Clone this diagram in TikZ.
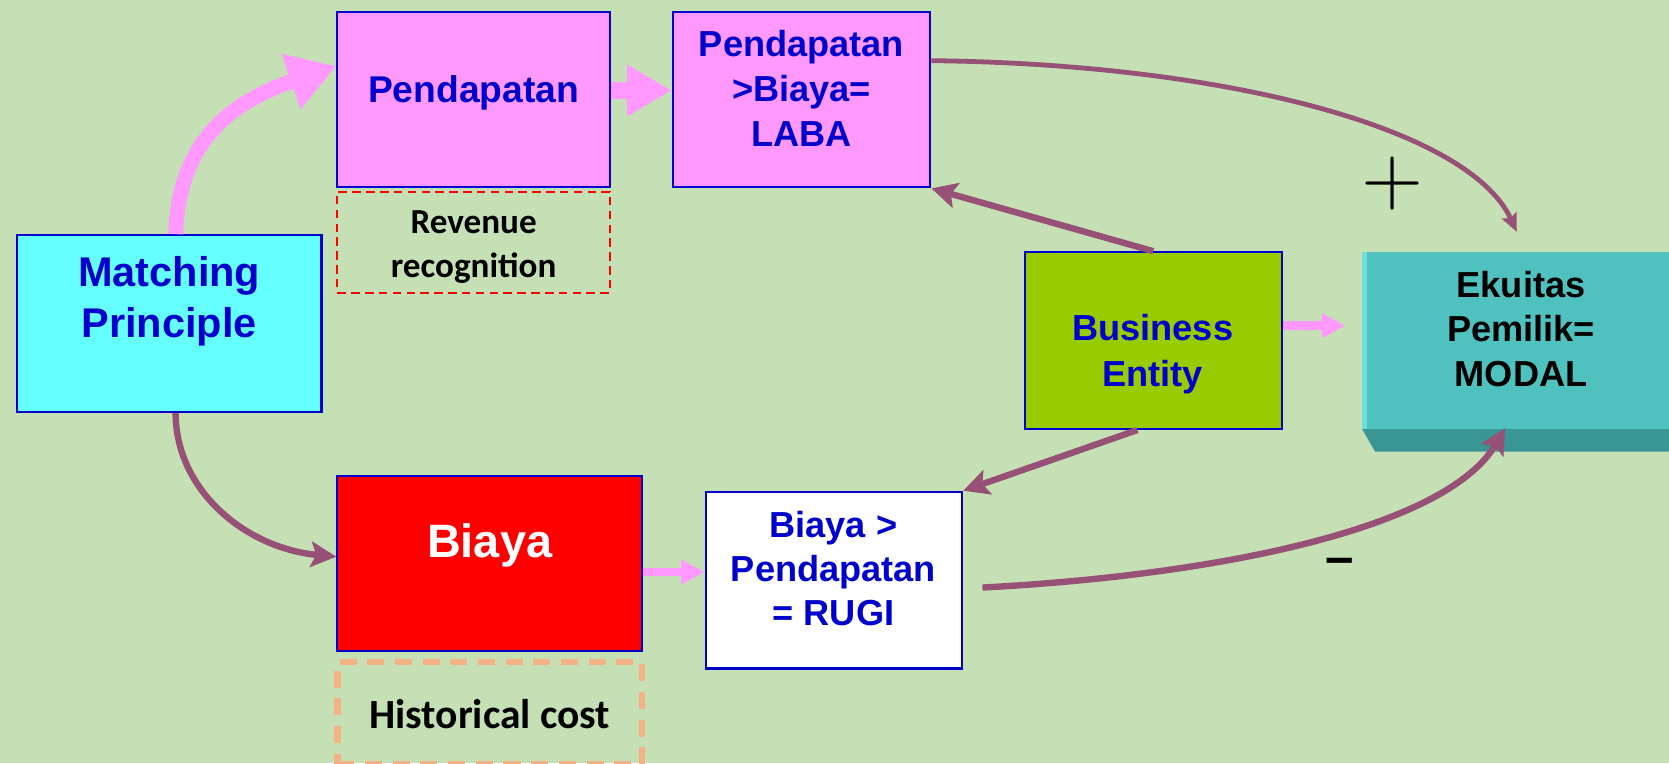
\documentclass[tikz,border=0pt]{standalone}
\usepackage{graphicx}
\usepackage{fontspec}
\setmainfont{Liberation Sans}
\newfontfamily\calibfont{Carlito}
\usetikzlibrary{arrows.meta}
\definecolor{bgc}{RGB}{197,224,180}
\definecolor{boxblue}{RGB}{0,0,204}
\definecolor{cyanbox}{RGB}{102,255,255}
\definecolor{pinkbox}{RGB}{255,153,255}
\definecolor{greenbox}{RGB}{153,204,0}
\definecolor{tealtop}{RGB}{79,193,191}
\definecolor{tealside}{RGB}{58,150,148}
\definecolor{teallight}{RGB}{110,222,218}
\definecolor{purp}{RGB}{151,81,119}
\definecolor{peach}{RGB}{244,177,131}

\begin{document}
\begin{tikzpicture}
[x=1pt,y=-1pt
,bx/.style={rectangle,draw=boxblue,line width=2pt,inner sep=0pt}
,big/.style={minimum width=#1,minimum height=166pt}
,txt/.style={align=center,inner sep=0pt,text=boxblue,font=\bfseries\fontsize{34}{42}\selectfont}
,note/.style={rectangle,inner sep=0pt,minimum width=256pt,minimum height=95pt}
,pa/.style={draw=pinkbox,line width=8pt,-{Triangle[length=22pt,width=22pt]}}
,ba/.style={draw=purp,line width=6pt,-{Stealth[length=24pt,width=24pt,inset=5pt]}}
]
\fill[bgc] (0,0) rectangle (1568,717);
\useasboundingbox (0,0) rectangle (1568,717);

% boxes
\node[bx,big=286pt,fill=cyanbox] (match) at (159,304) {};
\node[bx,big=256pt,minimum height=165pt,fill=pinkbox] (pend) at (445,93.5) {};
\node[bx,big=242pt,minimum height=165pt,fill=pinkbox] (laba) at (753,93.5) {};
\node[bx,big=241pt,fill=greenbox] (biz) at (1083.5,320) {};
\node[bx,big=286pt,minimum height=165pt,fill=red] (biaya) at (460,529.5) {};
\node[bx,big=241pt,fill=white] (rugi) at (783.5,545) {};
\node[big=288pt,fill=tealtop,inner sep=0pt] (modal) at (1424,320) {};
\fill[tealside] (modal.south west) -- ++(12,21) -- ++(400,0) -- (modal.south east) -- cycle;
\fill[teallight] (modal.north west) rectangle ([xshift=4pt]modal.south west);

\node[note,draw=red,line width=2pt,dash pattern=on 8pt off 5pt] (rev) at (445,227.5) {};
\node[note,draw=peach,line width=6pt,dash pattern=on 16pt off 10pt,minimum width=286pt,minimum height=96pt] (hist) at (460,670) {};

% texts
\node[txt,font=\bfseries\fontsize{39}{48}\selectfont] (match-t) at (159,283) {Matching\\Principle};
\node[txt,font=\bfseries\fontsize{35}{42}\selectfont] (pend-t) at (445,87) {Pendapatan};
\node[txt] (laba-t) at (753,83) {Pendapatan\\>Biaya=\\LABA};
\node[txt,font=\bfseries\fontsize{34}{43}\selectfont] (biz-t) at (1083,333) {Business\\Entity};
\node[txt,text=black,font=\bfseries\fontsize{34}{41.5}\selectfont] (modal-t) at (1429,309) {Ekuitas\\Pemilik=\\MODAL};
\node[txt,text=white,font=\bfseries\fontsize{44}{50}\selectfont] (biaya-t) at (460,512) {Biaya};
\node[txt,font=\bfseries\fontsize{34}{41.5}\selectfont] (rugi-t) at (783,534) {Biaya >\\Pendapatan\\= RUGI};
\node[align=center,inner sep=0pt,font=\calibfont\bfseries\fontsize{33}{42}\selectfont] (rev-t) at (445,232) {Revenue\\recognition};
\node[inner sep=0pt,font=\calibfont\bfseries\fontsize{39}{46}\selectfont] (hist-t) at (460,671) {Historical cost};
\node[inner sep=0pt] (plus) at (1308,172) {\scalebox{7.5}{$+$}};
\node[inner sep=0pt,anchor=north,font=\bfseries\fontsize{48}{48}\selectfont] (minus) at (1259,524) {\textendash};

% arrows
\draw[pa,line width=14pt,-{Triangle[length=45pt,width=52pt]}] ([xshift=6pt]match.north) .. controls (168,130) and (220,95) .. ([yshift=31.5pt]pend.west);
\draw[pa,line width=16pt,-{Triangle[length=42pt,width=46pt]}] ([yshift=8.5pt]pend.east) -- ([yshift=8.5pt]laba.west);
\draw[pa] ([yshift=14pt]biz.east) -- ([xshift=-16pt,yshift=14pt]modal.west);
\draw[pa] ([yshift=-8pt]biaya.east) -- ([yshift=7.5pt]rugi.west);
\draw[ba,line width=4.5pt,-{Stealth[length=17pt,width=15pt,inset=3pt]}] ([yshift=36.5pt]laba.east) .. controls (1150,60) and (1380,120) .. ([xshift=1pt,yshift=19pt]modal.north);
\draw[ba] (biz.north) -- (laba.south east);
\draw[ba] ([xshift=-15pt]biz.south) -- (rugi.north east);
\draw[ba] ([xshift=6pt]match.south) .. controls (165,460) and (230,515) .. ([yshift=6.5pt]biaya.west);
\draw[ba] ([xshift=18pt,yshift=-7pt]rugi.east) .. controls (1150,540) and (1360,495) .. ([xshift=-10pt,yshift=1pt]modal.south);
\end{tikzpicture}
\end{document}
